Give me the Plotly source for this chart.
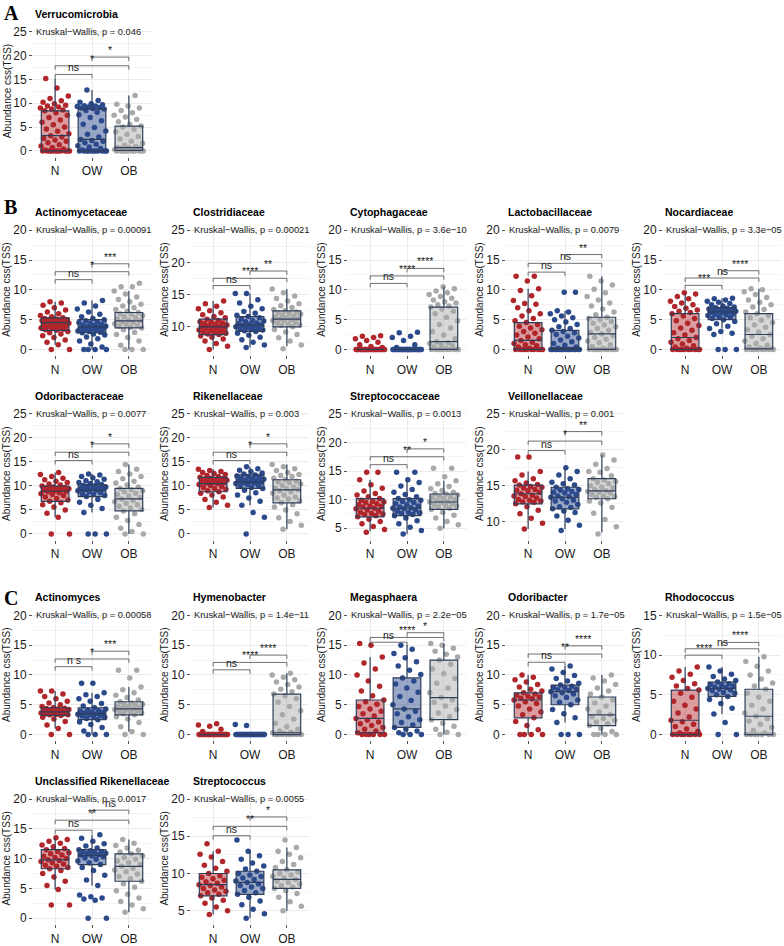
import plotly.graph_objects as go

# ---------------- DATA ----------------
GROUPS = ["N", "OW", "OB"]

titles = ["Verrucomicrobia", "Actinomycetaceae", "Clostridiaceae", "Cytophagaceae", "Lactobacillaceae",
          "Nocardiaceae", "Odoribacteraceae", "Rikenellaceae", "Streptococcaceae", "Veillonellaceae",
          "Actinomyces", "Hymenobacter", "Megasphaera", "Odoribacter", "Rhodococcus",
          "Unclassified Rikenellaceae", "Streptococcus"]
kw_pvalues = ["0.046", "0.00091", "0.00021", "3.6e\u221210", "0.0079", "3.3e\u221205", "0.0077", "0.003",
              "0.0013", "0.001", "0.00058", "1.4e\u221211", "2.2e\u221205", "1.7e\u221205", "1.5e\u221205",
              "0.0017", "0.0055"]
kw_label_y = [25, 20, 25, 20, 20, 20, 25, 25, 25, 25, 20, 20, 20, 20, 15, 20, 20]
sig_labels = [["ns", "*", "*"], ["ns", "*", "***"], ["ns", "****", "**"], ["ns", "****", "****"],
              ["ns", "ns", "**"], ["***", "ns", "****"], ["ns", "*", "*"], ["ns", "*", "*"],
              ["ns", "**", "*"], ["ns", "*", "**"], ["n s", "*", "***"], ["ns", "****", "****"],
              ["ns", "****", "*"], ["ns", "**", "****"], ["****", "ns", "****"], ["ns", "**", "ns"],
              ["ns", "**", "*"]]

# box statistics per group (N, OW, OB): [lower whisker, q1, median, q3, upper whisker]
verrucomicrobia_box = [[0, 0, 3.2, 8.4, 15.2], [0, 0, 2.4, 8.8, 12.8], [0, 0.1, 0.7, 5.2, 11.6]]
verrucomicrobia_pts = [
    [0, 0, 0, 0, 0, 0, 0, 0, 0, 0, 0, 0.2, 0.4, 0.7, 1.0, 1.3, 1.7, 2.0, 2.3, 2.6, 2.9, 3.2, 3.6, 4.1, 4.6, 5.0, 5.5, 6.0, 6.5, 7.0, 7.5, 8.0, 8.4, 8.6, 8.8, 9.0, 9.2, 9.4, 9.6, 9.9, 10.2, 10.5, 11.0, 11.5, 13.2, 15.2],
    [0, 0, 0, 0, 0, 0, 0, 0, 0, 0, 0, 0.2, 0.5, 0.8, 1.1, 1.4, 1.7, 2.0, 2.2, 2.4, 2.9, 3.5, 4.2, 4.9, 5.6, 6.3, 7.0, 7.6, 8.1, 8.5, 8.8, 8.9, 9.0, 9.1, 9.2, 9.3, 9.4, 9.5, 9.7, 9.9, 10.2, 10.6, 12.8],
    [0, 0, 0, 0, 0, 0, 0, 0, 0, 0, 0.1, 0.1, 0.2, 0.2, 0.3, 0.4, 0.5, 0.6, 0.7, 0.7, 0.9, 1.2, 1.6, 2.0, 2.5, 3.0, 3.5, 4.0, 4.5, 5.0, 5.2, 5.6, 6.1, 6.6, 7.1, 7.5, 8.0, 8.5, 9.0, 9.4, 9.8, 11.6]]

actinomycetaceae_box = [[0.8, 3.2, 4.5, 5.3, 8.0], [0, 2.8, 3.8, 5.0, 8.2], [0, 3.6, 4.8, 6.2, 9.8]]
actinomycetaceae_pts = [
    [0, 0, 0.8, 1.2, 1.6, 2.0, 2.3, 2.6, 2.8, 3.0, 3.2, 3.3, 3.4, 3.5, 3.6, 3.7, 3.8, 3.9, 4.0, 4.1, 4.2, 4.3, 4.4, 4.5, 4.6, 4.6, 4.7, 4.8, 4.9, 5.0, 5.0, 5.1, 5.2, 5.3, 5.5, 5.7, 6.0, 6.3, 6.6, 7.0, 7.4, 7.8, 8.0],
    [0, 0, 0, 0, 0.4, 0.9, 1.4, 1.8, 2.1, 2.4, 2.6, 2.8, 2.9, 3.0, 3.1, 3.2, 3.3, 3.4, 3.5, 3.6, 3.7, 3.8, 3.9, 4.0, 4.1, 4.2, 4.4, 4.5, 4.6, 4.8, 5.0, 5.2, 5.5, 5.9, 6.3, 6.8, 7.3, 7.8, 8.2],
    [0, 0, 0, 0.7, 1.4, 2.0, 2.5, 2.9, 3.3, 3.6, 3.7, 3.9, 4.0, 4.2, 4.3, 4.5, 4.6, 4.8, 4.9, 5.1, 5.3, 5.5, 5.7, 5.9, 6.0, 6.2, 6.4, 6.7, 7.0, 7.3, 7.6, 8.0, 8.4, 8.8, 9.3, 9.8, 10.5, 10.5, 11.1]]

clostridiaceae_box = [[6.5, 8.8, 10.0, 11.2, 14.0], [6.8, 9.3, 10.3, 11.6, 15.2], [7.0, 10.0, 11.2, 12.5, 15.9]]
clostridiaceae_pts = [
    [6.5, 7.0, 7.4, 7.8, 8.1, 8.4, 8.6, 8.8, 8.9, 9.0, 9.1, 9.2, 9.3, 9.4, 9.5, 9.6, 9.7, 9.8, 9.9, 10.0, 10.1, 10.2, 10.3, 10.4, 10.5, 10.6, 10.7, 10.8, 11.0, 11.2, 11.4, 11.6, 11.9, 12.2, 12.5, 12.8, 13.2, 13.6, 14.0],
    [6.8, 7.2, 7.6, 8.0, 8.4, 8.7, 9.0, 9.3, 9.4, 9.5, 9.6, 9.7, 9.8, 9.9, 10.0, 10.1, 10.2, 10.3, 10.4, 10.5, 10.6, 10.8, 10.9, 11.0, 11.2, 11.4, 11.6, 11.8, 12.1, 12.4, 12.8, 13.2, 13.7, 14.2, 15.2, 15.2],
    [6.6, 7.2, 7.8, 8.3, 8.8, 9.2, 9.6, 10.0, 10.2, 10.3, 10.4, 10.6, 10.7, 10.9, 11.0, 11.1, 11.2, 11.3, 11.4, 11.5, 11.6, 11.8, 12.0, 12.1, 12.2, 12.3, 12.5, 12.7, 13.0, 13.3, 13.6, 14.0, 14.4, 14.8, 15.3, 15.9]]

cytophagaceae_box = [[0, 0, 0, 0, 0], [0, 0, 0, 0, 0], [0, 0, 1.3, 7.1, 10.5]]
cytophagaceae_pts = [
    [0, 0, 0, 0, 0, 0, 0, 0, 0, 0, 0, 0, 0, 0, 0, 0, 0, 0, 0, 0, 0, 0, 0, 0, 0, 0, 0, 0, 0, 0, 0.3, 0.5, 0.8, 1.2, 1.5, 1.8, 2.0, 2.2, 2.3],
    [0, 0, 0, 0, 0, 0, 0, 0, 0, 0, 0, 0, 0, 0, 0, 0, 0, 0, 0, 0, 0, 0, 0, 0, 0, 0, 0, 0, 0, 0, 0, 0, 0.3, 0.8, 1.5, 2.0, 2.2, 2.8, 2.9],
    [0, 0, 0, 0, 0, 0, 0, 0, 0, 0, 0.2, 0.4, 0.6, 0.8, 1.0, 1.1, 1.3, 1.8, 2.4, 3.0, 3.6, 4.2, 4.8, 5.4, 6.0, 6.4, 6.8, 7.1, 7.3, 7.5, 7.8, 8.0, 8.3, 8.6, 8.9, 9.2, 9.5, 9.8, 10.2, 10.5]]

lactobacillaceae_box = [[0, 0, 1.5, 4.5, 10.2], [0, 0, 0.2, 3.2, 6.5], [0, 0, 2.6, 5.4, 12.3]]
lactobacillaceae_pts = [
    [0, 0, 0, 0, 0, 0, 0, 0, 0, 0, 0.2, 0.4, 0.6, 0.8, 1.0, 1.2, 1.5, 1.8, 2.1, 2.4, 2.7, 3.0, 3.3, 3.6, 3.9, 4.2, 4.5, 4.8, 5.2, 5.6, 6.0, 6.5, 7.0, 7.6, 7.7, 8.2, 9.0, 9.9, 10.2, 11.5, 12.3, 12.3],
    [0, 0, 0, 0, 0, 0, 0, 0, 0, 0, 0, 0, 0, 0, 0, 0, 0.2, 0.4, 0.7, 1.0, 1.3, 1.6, 1.9, 2.2, 2.5, 2.8, 3.0, 3.2, 3.5, 3.8, 4.2, 4.6, 5.0, 5.3, 5.6, 6.0, 6.3, 6.5, 9.6, 9.6],
    [0, 0, 0, 0, 0, 0, 0, 0, 0, 0, 0.2, 0.5, 0.8, 1.1, 1.4, 1.7, 2.0, 2.3, 2.6, 2.9, 3.2, 3.5, 3.8, 4.1, 4.4, 4.7, 5.0, 5.2, 5.4, 5.8, 6.3, 6.8, 7.3, 7.8, 8.3, 8.9, 9.5, 10.1, 10.8, 11.5, 12.3]]

nocardiaceae_box = [[0, 0, 2.0, 6.0, 9.3], [3.5, 5.0, 6.3, 7.0, 8.6], [0, 0.1, 2.5, 6.0, 10.2]]
nocardiaceae_pts = [
    [0, 0, 0, 0, 0, 0, 0, 0, 0, 0, 0.2, 0.4, 0.6, 0.9, 1.2, 1.5, 1.8, 2.0, 2.4, 2.8, 3.2, 3.6, 4.0, 4.4, 4.8, 5.2, 5.6, 6.0, 6.2, 6.4, 6.6, 6.9, 7.2, 7.5, 7.8, 8.1, 8.5, 8.9, 9.3, 9.5],
    [0, 0, 0, 2.5, 2.7, 3.0, 3.5, 3.9, 4.3, 4.7, 5.0, 5.2, 5.4, 5.5, 5.7, 5.8, 5.9, 6.0, 6.1, 6.2, 6.3, 6.4, 6.4, 6.5, 6.5, 6.6, 6.7, 6.8, 6.9, 7.0, 7.1, 7.3, 7.5, 7.7, 7.9, 8.1, 8.3, 8.5, 8.6],
    [0, 0, 0, 0, 0, 0, 0, 0, 0, 0.1, 0.2, 0.4, 0.7, 1.0, 1.4, 1.8, 2.2, 2.5, 2.9, 3.3, 3.7, 4.1, 4.5, 4.9, 5.3, 5.7, 6.0, 6.3, 6.7, 7.1, 7.5, 7.9, 8.3, 8.7, 9.2, 9.7, 10.0, 10.2]]

odoribacteraceae_box = [[3.5, 6.8, 8.9, 10.0, 12.8], [4.5, 7.8, 9.1, 10.3, 12.5], [0, 4.8, 7.3, 9.5, 14.5]]
odoribacteraceae_pts = [
    [0, 0, 3.5, 4.3, 5.0, 5.6, 6.1, 6.5, 6.8, 7.1, 7.4, 7.7, 8.0, 8.2, 8.4, 8.6, 8.8, 8.9, 9.0, 9.1, 9.2, 9.3, 9.4, 9.5, 9.6, 9.7, 9.8, 10.0, 10.2, 10.4, 10.7, 11.0, 11.3, 11.6, 12.0, 12.4, 12.8],
    [0, 0, 0, 4.5, 5.3, 6.0, 6.6, 7.2, 7.8, 8.0, 8.2, 8.4, 8.6, 8.8, 9.0, 9.1, 9.2, 9.3, 9.4, 9.5, 9.6, 9.7, 9.8, 10.0, 10.1, 10.3, 10.5, 10.7, 10.9, 11.1, 11.4, 11.7, 12.0, 12.3, 12.5],
    [0, 0, 0.5, 1.2, 2.0, 2.8, 3.5, 4.2, 4.8, 5.1, 5.4, 5.8, 6.1, 6.4, 6.7, 7.0, 7.3, 7.6, 7.9, 8.2, 8.5, 8.8, 9.0, 9.2, 9.5, 9.8, 10.2, 10.6, 11.0, 11.5, 12.0, 12.5, 13.0, 13.5, 14.5]]

rikenellaceae_box = [[5.5, 8.8, 10.5, 11.8, 13.5], [6.0, 9.5, 10.8, 12.3, 14.0], [1.0, 6.5, 9.2, 11.3, 14.5]]
rikenellaceae_pts = [
    [5.5, 6.0, 6.6, 7.2, 7.7, 8.1, 8.5, 8.8, 9.0, 9.3, 9.5, 9.7, 9.9, 10.1, 10.3, 10.5, 10.6, 10.7, 10.8, 10.9, 11.0, 11.1, 11.2, 11.3, 11.4, 11.5, 11.6, 11.8, 12.0, 12.2, 12.4, 12.6, 12.8, 13.0, 13.2, 13.5],
    [0, 3.5, 4.5, 6.0, 6.8, 7.5, 8.1, 8.6, 9.1, 9.5, 9.7, 9.9, 10.1, 10.3, 10.5, 10.6, 10.7, 10.8, 10.9, 11.0, 11.1, 11.2, 11.4, 11.5, 11.6, 11.8, 12.0, 12.1, 12.3, 12.5, 12.7, 13.0, 13.3, 13.6, 14.0],
    [1.0, 1.8, 2.6, 3.4, 4.2, 5.0, 5.6, 6.1, 6.5, 6.9, 7.3, 7.5, 7.7, 8.1, 8.5, 8.8, 9.0, 9.2, 9.4, 9.5, 9.8, 10.1, 10.4, 10.7, 10.9, 11.0, 11.3, 11.6, 12.0, 12.2, 12.4, 12.8, 13.2, 13.6, 14.0, 14.5]]

streptococcaceae_box = [[4.5, 7.0, 8.5, 10.2, 13.5], [4.0, 7.2, 8.5, 10.2, 13.5], [5.0, 8.3, 9.6, 11.0, 13.3]]
streptococcaceae_pts = [
    [4.3, 4.8, 5.3, 5.8, 6.2, 6.6, 7.0, 7.2, 7.4, 7.5, 7.6, 7.8, 8.0, 8.2, 8.4, 8.5, 8.7, 8.8, 8.9, 9.1, 9.3, 9.5, 9.6, 9.7, 9.9, 10.2, 10.5, 10.8, 11.1, 11.5, 12.0, 12.6, 13.5, 14.8, 14.8],
    [4.0, 4.6, 5.2, 5.8, 6.3, 6.8, 7.2, 7.4, 7.6, 7.7, 7.8, 8.0, 8.2, 8.4, 8.5, 8.6, 8.7, 8.9, 9.1, 9.3, 9.5, 9.7, 9.9, 10.0, 10.2, 10.5, 10.9, 11.3, 11.8, 12.4, 13.0, 13.5, 14.8, 14.8],
    [5.0, 5.6, 6.2, 6.8, 7.3, 7.8, 8.3, 8.5, 8.7, 8.9, 9.0, 9.1, 9.3, 9.5, 9.6, 9.7, 9.8, 10.0, 10.2, 10.4, 10.5, 10.6, 10.8, 11.0, 11.1, 11.3, 11.6, 11.9, 12.3, 12.8, 13.3, 14.0, 15.5, 15.5]]

veillonellaceae_box = [[9.0, 12.5, 13.9, 15.1, 17.0], [9.0, 11.8, 13.4, 14.8, 17.5], [8.5, 13.2, 14.3, 16.0, 19.3]]
veillonellaceae_pts = [
    [9.0, 9.8, 10.5, 11.1, 11.6, 12.1, 12.5, 12.7, 12.8, 12.9, 13.0, 13.1, 13.3, 13.5, 13.6, 13.7, 13.9, 14.1, 14.3, 14.4, 14.5, 14.7, 14.8, 14.9, 15.1, 15.2, 15.4, 15.7, 16.0, 16.5, 17.0, 19.0, 19.0],
    [8.8, 9.5, 10.2, 10.8, 11.3, 11.5, 11.8, 12.0, 12.1, 12.4, 12.7, 12.9, 13.0, 13.2, 13.4, 13.5, 13.6, 13.8, 14.0, 14.1, 14.2, 14.4, 14.5, 14.6, 14.8, 15.1, 15.3, 15.5, 16.0, 16.5, 17.0, 17.5],
    [8.3, 9.3, 10.3, 11.2, 12.0, 12.6, 12.9, 13.2, 13.4, 13.5, 13.6, 13.8, 14.0, 14.1, 14.2, 14.3, 14.5, 14.7, 14.8, 15.0, 15.3, 15.5, 15.6, 15.8, 16.0, 16.4, 16.9, 17.0, 17.4, 18.0, 18.6, 19.3]]

actinomyces_box = [[1.0, 3.2, 3.8, 4.5, 7.3], [0, 2.5, 3.5, 4.5, 7.0], [0.5, 3.3, 4.3, 5.5, 8.0]]
actinomyces_pts = [
    [0, 0, 1.0, 1.6, 2.2, 2.6, 2.9, 3.2, 3.3, 3.3, 3.4, 3.45, 3.5, 3.6, 3.6, 3.7, 3.75, 3.8, 3.9, 4.0, 4.05, 4.1, 4.2, 4.3, 4.35, 4.4, 4.5, 4.7, 5.0, 5.3, 5.6, 6.0, 6.4, 6.8, 7.3, 7.3],
    [0, 0, 0, 0.6, 1.2, 1.7, 2.1, 2.5, 2.7, 2.9, 3.0, 3.1, 3.2, 3.3, 3.4, 3.5, 3.6, 3.7, 3.8, 3.9, 4.0, 4.1, 4.3, 4.5, 4.8, 5.2, 5.6, 6.0, 6.4, 6.7, 7.0, 8.6, 8.6],
    [0, 0, 0.5, 1.3, 2.0, 2.6, 3.0, 3.3, 3.5, 3.6, 3.7, 3.9, 4.0, 4.1, 4.2, 4.3, 4.4, 4.5, 4.7, 4.8, 4.9, 5.0, 5.1, 5.3, 5.5, 5.8, 6.2, 6.6, 7.0, 7.5, 8.0, 9.5, 10.8, 10.8]]

hymenobacter_box = [[0, 0, 0, 0, 0], [0, 0, 0, 0, 0], [0, 0, 0.3, 6.8, 10.3]]
hymenobacter_pts = [
    [0, 0, 0, 0, 0, 0, 0, 0, 0, 0, 0, 0, 0, 0, 0, 0, 0, 0, 0, 0, 0, 0, 0, 0, 0, 0, 0, 0, 0, 0, 0, 0, 0.5, 0.9, 1.4, 1.6, 1.8],
    [0, 0, 0, 0, 0, 0, 0, 0, 0, 0, 0, 0, 0, 0, 0, 0, 0, 0, 0, 0, 0, 0, 0, 0, 0, 0, 0, 0, 0, 0, 0, 0, 0, 0, 1.5, 1.7],
    [0, 0, 0, 0, 0, 0, 0, 0, 0, 0, 0, 0, 0.1, 0.2, 0.3, 0.4, 0.6, 0.9, 1.3, 1.9, 2.6, 3.3, 4.0, 4.7, 5.4, 6.0, 6.5, 6.8, 7.2, 7.6, 8.0, 8.4, 8.8, 9.2, 9.6, 10.0, 10.3]]

megasphaera_box = [[0, 0.3, 2.7, 5.8, 13.0], [0, 1.2, 4.3, 9.5, 15.0], [0, 2.5, 6.2, 12.5, 15.3]]
megasphaera_pts = [
    [0, 0, 0, 0, 0, 0, 0.3, 0.6, 0.9, 1.2, 1.5, 1.8, 2.1, 2.4, 2.7, 3.1, 3.5, 3.9, 4.3, 4.7, 5.1, 5.5, 5.8, 6.5, 7.3, 8.1, 9.0, 10.0, 11.0, 12.0, 13.0, 15.0, 15.3],
    [0, 0, 0, 0.3, 0.6, 0.9, 1.2, 1.6, 2.0, 2.5, 3.0, 3.5, 3.9, 4.3, 5.0, 5.7, 6.4, 7.1, 7.8, 8.5, 9.0, 9.5, 10.1, 10.8, 11.5, 12.2, 12.9, 13.6, 14.3, 15.0],
    [0, 0, 0.4, 0.9, 1.4, 1.9, 2.5, 3.0, 3.6, 4.2, 4.8, 5.4, 5.8, 6.2, 7.0, 7.8, 8.6, 9.4, 10.2, 11.0, 11.8, 12.5, 13.0, 13.5, 14.0, 14.5, 15.0, 15.3]]

odoribacter_box = [[0, 2.8, 5.8, 7.0, 10.0], [2.0, 5.0, 7.2, 8.3, 11.5], [0, 1.5, 3.3, 6.3, 10.0]]
odoribacter_pts = [
    [0, 0, 0, 0, 0.8, 1.5, 2.2, 2.8, 3.3, 3.8, 4.3, 4.8, 5.2, 5.5, 5.8, 6.0, 6.1, 6.3, 6.4, 6.6, 6.8, 7.0, 7.3, 7.6, 8.0, 8.4, 8.8, 9.2, 9.6, 10.0],
    [0, 0, 0, 2.0, 2.8, 3.5, 4.2, 5.0, 5.4, 5.8, 6.2, 6.5, 6.8, 7.0, 7.2, 7.4, 7.5, 7.6, 7.8, 7.9, 8.1, 8.3, 8.6, 9.0, 9.4, 9.9, 10.4, 11.0, 11.5],
    [0, 0, 0, 0, 0.5, 1.0, 1.5, 1.8, 2.1, 2.4, 2.7, 3.0, 3.3, 3.8, 4.3, 4.8, 5.3, 5.8, 6.3, 6.8, 7.3, 7.8, 8.4, 9.0, 9.5, 10.0]]

rhodococcus_box = [[0, 0, 1.8, 5.6, 8.5], [2.6, 4.8, 5.8, 6.6, 8.5], [0, 0, 2.3, 5.7, 9.8]]
rhodococcus_pts = [
    [0, 0, 0, 0, 0, 0, 0, 0, 0.2, 0.4, 0.7, 1.0, 1.3, 1.6, 1.8, 2.2, 2.7, 3.2, 3.7, 4.2, 4.7, 5.2, 5.6, 5.8, 6.1, 6.4, 6.8, 7.2, 7.6, 8.0, 8.5],
    [0, 0, 1.5, 2.6, 3.3, 3.9, 4.4, 4.8, 5.0, 5.2, 5.3, 5.5, 5.6, 5.7, 5.8, 5.9, 6.0, 6.1, 6.2, 6.3, 6.4, 6.6, 6.8, 7.0, 7.3, 7.6, 8.0, 8.5],
    [0, 0, 0, 0, 0, 0, 0, 0.2, 0.5, 0.9, 1.3, 1.7, 2.0, 2.3, 2.7, 3.2, 3.7, 4.2, 4.7, 5.2, 5.7, 6.1, 6.5, 7.0, 7.5, 8.0, 8.6, 9.2, 9.8]]

unclassified_rikenellaceae_box = [[4.8, 8.3, 9.8, 11.5, 13.5], [5.5, 9.0, 10.5, 11.5, 14.0], [1.0, 6.2, 8.7, 10.8, 13.2]]
unclassified_rikenellaceae_pts = [
    [2.2, 2.2, 4.8, 5.5, 6.2, 6.9, 7.5, 8.0, 8.3, 8.5, 8.7, 8.9, 9.1, 9.3, 9.5, 9.7, 9.8, 10.0, 10.2, 10.4, 10.6, 10.8, 11.0, 11.2, 11.5, 11.7, 12.0, 12.3, 12.6, 12.9, 13.2, 13.5],
    [0, 0, 3.0, 3.2, 3.4, 3.6, 3.9, 5.5, 6.4, 7.2, 8.0, 8.5, 9.0, 9.3, 9.6, 9.9, 10.1, 10.3, 10.5, 10.6, 10.7, 10.8, 10.9, 11.0, 11.1, 11.2, 11.3, 11.5, 11.8, 12.1, 12.5, 12.9, 13.4, 14.0],
    [1.0, 1.6, 2.2, 2.8, 3.4, 4.0, 4.6, 5.2, 5.8, 6.2, 6.6, 7.0, 7.4, 7.8, 8.1, 8.4, 8.7, 9.0, 9.3, 9.6, 9.9, 10.2, 10.5, 10.8, 11.1, 11.4, 11.8, 12.2, 12.6, 13.2]]

streptococcus_box = [[4.5, 7.0, 8.5, 10.0, 13.0], [4.0, 7.2, 8.8, 10.3, 13.0], [5.0, 8.0, 9.2, 10.5, 13.5]]
streptococcus_pts = [
    [4.5, 5.0, 5.5, 6.0, 6.4, 6.7, 7.0, 7.2, 7.4, 7.6, 7.8, 8.0, 8.2, 8.4, 8.5, 8.7, 8.9, 9.1, 9.3, 9.5, 9.7, 10.0, 10.3, 10.7, 11.1, 11.6, 12.2, 12.6, 13.0, 14.0],
    [4.0, 4.6, 5.2, 5.8, 6.3, 6.8, 7.2, 7.4, 7.7, 8.0, 8.2, 8.4, 8.6, 8.8, 9.0, 9.2, 9.4, 9.6, 9.8, 10.0, 10.3, 10.6, 11.0, 11.4, 11.9, 12.4, 13.0, 14.5],
    [5.0, 5.6, 6.2, 6.8, 7.3, 7.7, 8.0, 8.2, 8.4, 8.6, 8.8, 9.0, 9.2, 9.4, 9.6, 9.8, 10.0, 10.2, 10.5, 10.8, 11.2, 11.6, 12.1, 12.6, 13.0, 13.5, 14.5]]

panel_boxes = [verrucomicrobia_box, actinomycetaceae_box, clostridiaceae_box, cytophagaceae_box,
               lactobacillaceae_box, nocardiaceae_box, odoribacteraceae_box, rikenellaceae_box,
               streptococcaceae_box, veillonellaceae_box, actinomyces_box, hymenobacter_box,
               megasphaera_box, odoribacter_box, rhodococcus_box, unclassified_rikenellaceae_box,
               streptococcus_box]
panel_points = [verrucomicrobia_pts, actinomycetaceae_pts, clostridiaceae_pts, cytophagaceae_pts,
                lactobacillaceae_pts, nocardiaceae_pts, odoribacteraceae_pts, rikenellaceae_pts,
                streptococcaceae_pts, veillonellaceae_pts, actinomyces_pts, hymenobacter_pts,
                megasphaera_pts, odoribacter_pts, rhodococcus_pts, unclassified_rikenellaceae_pts,
                streptococcus_pts]

# ---------------- STYLE / LAYOUT ----------------
FW, FH = 784, 946
FONT = "Liberation Sans, Arial, Helvetica, sans-serif"
POINT_COLORS = ["#B0262B", "#2B4A8C", "#A9A9A9"]
FILL_COLORS = ["rgba(176,38,43,0.45)", "rgba(43,74,140,0.48)", "rgba(169,169,169,0.45)"]
BOX_LINE = "#2E3D5A"
COL_LEFT = [33, 191, 348, 506, 663]
PLOT_W = 118
ROWS = [(25, 157), (225, 357), (410, 543), (613, 745), (798, 930)]
PANEL_CELLS = [(0, 0), (1, 0), (1, 1), (1, 2), (1, 3), (1, 4), (2, 0), (2, 1), (2, 2), (2, 3),
               (3, 0), (3, 1), (3, 2), (3, 3), (3, 4), (4, 0), (4, 1)]
PAIRS = [(0, 1), (0, 2), (1, 2)]
JITTER = 0.8
# bracket heights placed by hand where the reference packs them tighter (panel index -> levels)
BRACKET_LEVELS = {12: [15.5, 16.3, 17.1], 14: [10.0, 10.8, 11.6]}

fig = go.Figure()
layout_axes = {}
annotations = []

for j in range(len(titles)):
    ax = j + 1
    xname = "x" if ax == 1 else f"x{ax}"
    yname = "y" if ax == 1 else f"y{ax}"
    r, c = PANEL_CELLS[j]
    top, bot = ROWS[r]
    L = COL_LEFT[c]
    box = panel_boxes[j]
    pts = panel_points[j]
    kwy = kw_label_y[j]

    allv = [v for g in pts for v in g] + [s[0] for s in box] + [s[4] for s in box]
    dmin, dmax = min(allv), max(allv)
    span = kwy - dmin
    drange = dmax - dmin
    yr = [dmin - 0.05 * span, kwy + 0.05 * span]

    # jittered points (drawn below the boxes)
    for gi in range(3):
        vals = sorted(pts[gi])
        xs = [gi + (((k * 0.6180339887 + 0.37) % 1.0) - 0.5) * JITTER for k in range(len(vals))]
        fig.add_trace(go.Scatter(x=xs, y=vals, mode="markers",
                                 marker=dict(color=POINT_COLORS[gi], size=5.5, line=dict(width=0)),
                                 xaxis=xname, yaxis=yname, zorder=0, showlegend=False, hoverinfo="skip"))
    # boxes
    for gi in range(3):
        lf, q1, med, q3, uf = box[gi]
        fig.add_trace(go.Box(x=[gi], lowerfence=[lf], q1=[q1], median=[med], q3=[q3], upperfence=[uf],
                             fillcolor=FILL_COLORS[gi], line=dict(color=BOX_LINE, width=1.2),
                             width=0.75, whiskerwidth=0, boxpoints=False,
                             xaxis=xname, yaxis=yname, zorder=1, showlegend=False, hoverinfo="skip"))
    # significance brackets (stacked above the data like ggsignif)
    tip = 0.03 * (yr[1] - yr[0])
    if j in BRACKET_LEVELS:
        levels = BRACKET_LEVELS[j]
    else:
        levels = [dmax + 0.055 * drange + k * 0.12 * drange for k in range(3)]
    bx, by = [], []
    for (a, b), lv, lab in zip(PAIRS, levels, sig_labels[j]):
        bx += [a, a, b, b, None]
        by += [lv - tip, lv, lv, lv - tip, None]
        annotations.append(dict(x=(a + b) / 2, y=lv, xref=xname, yref=yname, text=lab, showarrow=False,
                                xanchor="center", yanchor="bottom", yshift=-1,
                                font=dict(size=10.5, color="#222", family=FONT)))
    fig.add_trace(go.Scatter(x=bx, y=by, mode="lines", line=dict(color="#333333", width=0.7),
                             xaxis=xname, yaxis=yname, zorder=2, showlegend=False, hoverinfo="skip"))

    # texts
    annotations.append(dict(x=-0.6, y=kwy, xref=xname, yref=yname, xanchor="left", yanchor="middle",
                            xshift=1, text=f"Kruskal\u2212Wallis, p = {kw_pvalues[j]}", showarrow=False,
                            font=dict(size=9.3, color="#1a1a1a", family=FONT)))
    annotations.append(dict(x=L / FW, y=1 - (top - 4) / FH, xref="paper", yref="paper", xanchor="left",
                            yanchor="bottom", text=f"<b>{titles[j]}</b>", showarrow=False,
                            font=dict(size=10.5, color="#000", family=FONT)))
    annotations.append(dict(x=(L - 26) / FW, y=1 - (top + bot) / 2 / FH, xref="paper", yref="paper",
                            xanchor="center", yanchor="middle", textangle=-90, text="Abundance css(TSS)",
                            showarrow=False, font=dict(size=10, color="#1a1a1a", family=FONT)))

    xkey = "xaxis" if ax == 1 else f"xaxis{ax}"
    ykey = "yaxis" if ax == 1 else f"yaxis{ax}"
    layout_axes[xkey] = dict(domain=[L / FW, (L + PLOT_W) / FW], range=[-0.6, 2.6], anchor=yname,
                             tickmode="array", tickvals=[0, 1, 2], ticktext=GROUPS,
                             showgrid=True, gridcolor="#EBEBEB", gridwidth=1, zeroline=False,
                             showline=True, mirror=True, linecolor="#8C8C8C", linewidth=1,
                             ticks="outside", ticklen=3, tickcolor="#555", tickwidth=1,
                             tickfont=dict(size=12, color="#1a1a1a", family=FONT), fixedrange=True)
    layout_axes[ykey] = dict(domain=[1 - bot / FH, 1 - top / FH], range=yr, anchor=xname,
                             tick0=0, dtick=5, showgrid=True, gridcolor="#EBEBEB", gridwidth=1,
                             zeroline=False, showline=True, mirror=True, linecolor="#8C8C8C", linewidth=1,
                             ticks="outside", ticklen=3, tickcolor="#555", tickwidth=1,
                             tickfont=dict(size=12, color="#1a1a1a", family=FONT), fixedrange=True,
                             minor=dict(tick0=0, dtick=2.5, showgrid=True, gridcolor="#F4F4F4", gridwidth=0.6))

for letter, ypx in [("A", 12), ("B", 208), ("C", 601)]:
    annotations.append(dict(x=2 / FW, y=1 - ypx / FH, xref="paper", yref="paper", xanchor="left",
                            yanchor="middle", text=f"<b>{letter}</b>", showarrow=False,
                            font=dict(size=20, color="#000", family="Liberation Serif, Times New Roman, serif")))

fig.update_layout(width=FW, height=FH, margin=dict(l=0, r=0, t=0, b=0),
                  plot_bgcolor="white", paper_bgcolor="white", showlegend=False,
                  boxmode="overlay", font=dict(family=FONT), annotations=annotations, **layout_axes)

fig.write_html("out.html", config={"displayModeBar": False},
               post_script="document.body.style.margin='0px';document.body.style.padding='0px';")
